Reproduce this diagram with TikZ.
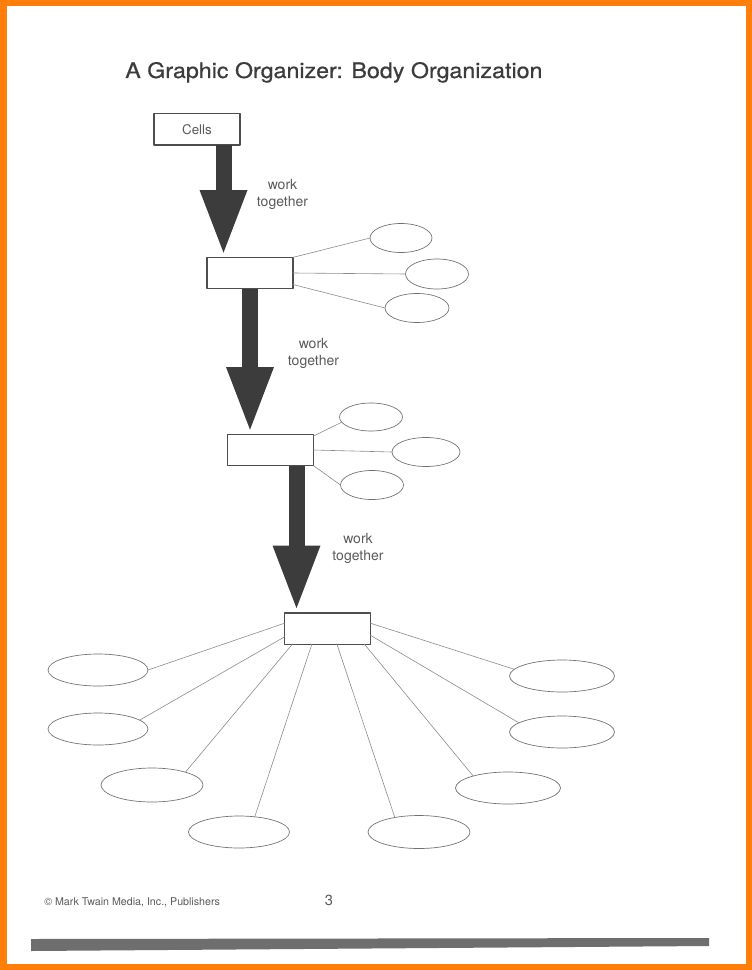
\documentclass[tikz,border=0pt]{standalone}
\usepackage{fontspec}
\setmainfont{TeX Gyre Heros}
\newfontfamily\titlefont[FakeStretch=1.09, FakeBold=0.6]{TeX Gyre Heros}
\usepackage{tikz}
\usetikzlibrary{calc}
\usetikzlibrary{arrows.meta}
\usetikzlibrary{shapes.geometric}
\definecolor{pageorange}{HTML}{FF7F0A}
\definecolor{inkgray}{HTML}{3C3C3C}
\definecolor{boxgray}{HTML}{4E4E4E}
\definecolor{linegray}{HTML}{8C8C8C}
\definecolor{textgray}{HTML}{5A5A5A}
\definecolor{scangray}{HTML}{6E6E6E}

\tikzset{
  box/.style={draw=boxgray, line width=1pt, inner sep=0pt, outer sep=0pt,
    minimum width=64.5pt, minimum height=23.5pt},
  bubble/.style 2 args={ellipse, draw=linegray!80!black, line width=0.5pt,
    inner sep=0pt, outer sep=0pt, minimum width=#1*0.75pt, minimum height=#2*0.75pt},
  spoke/.style={draw=linegray, line width=0.45pt},
  bigarrow/.style={draw=inkgray, line width=12pt, line cap=butt, shorten >=3.5pt,
    -{Triangle[length=47pt, width=36pt, line width=0pt]}},
  worklabel/.style={text=textgray, align=center, inner sep=0pt,
    font=\fontsize{10.5}{12.75}\selectfont}
}

\begin{document}
\begin{tikzpicture}[x=0.75pt, y=-0.75pt, line cap=round, line join=round]
  %--- page
    \fill[pageorange] (0,0) rectangle (752,970);
    \fill[white] (7,6) rectangle (746,964);
  %--- title
    \node[anchor=base west, inner sep=0pt, text=inkgray,
      font=\titlefont\fontsize{16}{19}\selectfont] (title) at (125,78)
      {A Graphic Organizer: Body Organization};
  %--- Cells
    \node[box, text=textgray, font=\fontsize{10}{12}\selectfont] (cells) at (197,129.5) {Cells};
  %--- tissue level
    \node[box] (tissue) at (250,273) {};
    \node[bubble={62}{29}] (t1) at (401,238) {};
    \node[bubble={63}{30}] (t2) at (437,274) {};
    \node[bubble={64}{29}] (t3) at (417,308) {};
    \draw[spoke] (tissue.20) -- (t1.west);
    \draw[spoke] (tissue.east) -- (t2.west);
    \draw[spoke] (tissue.-15) -- (t3.west);
  %--- organ level
    \node[box] (organ) at (270.5,450) {};
    \node[bubble={63}{28}] (o1) at (371,417) {};
    \node[bubble={68}{29}] (o2) at (426,452) {};
    \node[bubble={63}{29}] (o3) at (372,485) {};
    \draw[spoke] (organ.18) -- (o1.190);
    \draw[spoke] (organ.east) -- (o2.west);
    \draw[spoke] (organ.south east) -- (o3.west);
  %--- system level
    \node[box] (system) at (327.5,628.5) {};
    \node[bubble={100}{32}] (s1) at (98,670) {};
    \node[bubble={100}{32}] (s2) at (98,729) {};
    \node[bubble={102}{34}] (s3) at (152,785) {};
    \node[bubble={101}{32}] (s4) at (239,832) {};
    \node[bubble={102}{33}] (s5) at (419,832) {};
    \node[bubble={105}{32}] (s6) at (508,788) {};
    \node[bubble={105}{32}] (s7) at (562,732) {};
    \node[bubble={105}{32}] (s8) at (562,676) {};
    \draw[spoke] (system.173) -- (s1.east);
    \draw[spoke] (system.191) -- (s2.12);
    \draw[spoke] (system.204) -- (s3.21);
    \draw[spoke] (system.225) -- (s4.44);
    \draw[spoke] (system.301) -- (s5.149);
    \draw[spoke] (system.337) -- (s6.161);
    \draw[spoke] (system.351) -- (s7.168);
    \draw[spoke] (system.7) -- (s8.172);
  %--- work together arrows
    \coordinate (a1) at (223.5,0);
    \coordinate (a2) at (250,0);
    \coordinate (a3) at (296.5,0);
    \draw[bigarrow] (a1 |- cells.south) -- (a1 |- tissue.north);
    \draw[bigarrow] (a2 |- tissue.south) -- (a2 |- organ.north);
    \draw[bigarrow] (a3 |- organ.south) -- (a3 |- system.north);
    \node[worklabel] (w1) at (282.5,194) {work\\together};
    \node[worklabel] (w2) at (313.5,353) {work\\together};
    \node[worklabel] (w3) at (358,548) {work\\together};
  %--- footer
    \node[anchor=base west, inner sep=0pt, text=textgray,
      font=\fontsize{8}{10}\selectfont] (credit) at (44,905)
      {\textcopyright{} Mark Twain Media, Inc., Publishers};
    \node[anchor=base, inner sep=0pt, text=textgray,
      font=\fontsize{11}{13}\selectfont] (pagenum) at (329,905) {3};
    \fill[scangray] (31,939) -- (709,938) -- (709,946) -- (31,951) -- cycle;
\end{tikzpicture}
\end{document}
